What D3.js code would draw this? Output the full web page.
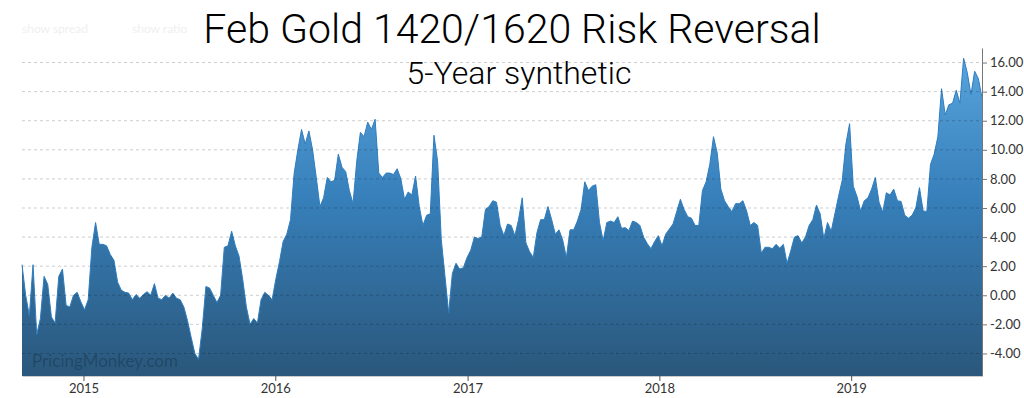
<!DOCTYPE html>
<html>
<head>
<meta charset="utf-8">
<script src="https://cdn.jsdelivr.net/npm/d3@7"></script>
<style>
  body { margin: 0; background: #fff; }
  svg { display: block; }
</style>
</head>
<body>
<svg></svg>
<script>
// Chart size
const width = 1024;
const height = 398;

// Weekly samples, first one on 6 Sep 2014
const startDate = new Date(2014, 8, 6);
const endDate = new Date(2019, 8, 7);
const stepDays = 7;

// Risk reversal values (one per week)
const rrValues = [
  2.1, 0.0, -1.4, 2.1, -2.7, -1.6, 1.3, 0.75, -1.5, -1.9,
  1.3, 1.8, -0.7, -0.8, 0.0, 0.2, -0.45, -1.0, -0.3, 3.3,
  5.0, 3.5, 3.5, 3.4, 2.8, 2.4, 0.9, 0.35, 0.2, 0.15,
  -0.3, 0.05, -0.2, 0.05, 0.25, 0.0, 0.8, -0.2, -0.3, 0.0,
  -0.2, 0.15, -0.2, -0.3, -0.8, -1.75, -2.9, -4.0, -4.4, -2.3,
  0.6, 0.5, 0.0, -0.5, 0.0, 3.3, 3.4, 4.4, 3.4, 2.7,
  1.1, -0.8, -2.0, -1.6, -1.9, -0.3,
  0.2, 0.0, -0.3, 1.1, 2.3, 3.7, 4.2, 5.2, 8.4, 10.0,
  11.4, 10.4, 11.3, 10.0, 8.1, 6.1, 6.7, 8.1, 7.8, 7.9,
  9.7, 8.8, 8.5, 7.2, 6.3, 9.2, 11.2, 10.9, 11.9, 11.4,
  12.1, 8.4, 8.1, 8.4, 8.4, 8.3, 8.7, 8.0, 6.6, 7.1,
  6.9, 8.2, 6.1, 4.8, 5.5, 5.6, 11.0, 9.2, 3.8, 1.3,
  -1.2, 1.5, 2.2, 1.8, 1.9, 2.6, 3.1, 4.0, 3.9, 4.0,
  5.9, 6.1, 6.5, 6.4, 4.8,
  4.1, 4.9, 4.8, 4.1, 5.2, 6.7, 3.6, 3.0, 2.6, 4.3,
  5.2, 5.2, 6.1, 5.2, 4.2, 4.5, 3.8, 2.6, 4.5, 4.5,
  5.1, 5.9, 7.8, 7.2, 7.5, 7.6, 5.0, 3.75, 5.0, 5.1,
  5.0, 5.4, 4.6, 4.65, 4.45, 5.1, 5.0, 4.8, 4.0, 3.55,
  3.2, 3.7, 4.1, 3.4, 4.2, 4.55, 4.9, 5.75, 6.6, 5.9,
  5.4, 5.3, 4.8, 4.8, 7.2, 7.8, 9.0, 10.9, 9.8, 7.3,
  6.5, 6.1, 5.75, 6.3, 6.3, 6.5,
  5.8, 4.8, 5.0, 4.8, 2.9, 3.3, 3.3, 3.2, 3.5, 3.25,
  3.5, 2.2, 3.05, 4.0, 4.1, 3.6, 4.0, 4.8, 5.2, 6.2,
  5.6, 3.9, 5.0, 4.4, 5.6, 6.8, 7.9, 10.4, 11.8, 7.5,
  6.8, 5.8, 6.5, 6.7, 7.3, 8.1, 6.4, 5.7, 7.05, 6.9,
  7.3, 6.5, 6.45, 5.5, 5.3, 5.5, 6.0, 7.4, 5.8, 5.75,
  9.0, 9.7, 10.9, 14.2, 12.4, 13.1, 13.2, 14.1, 13.2, 16.3,
  15.3, 13.8, 15.4, 14.9, 13.6
];

// Axis ticks
const yTicks = [-4, -2, 0, 2, 4, 6, 8, 10, 12, 14, 16];
const yDomain = [-5.55, 17.0];

const data = rrValues.map((v, i) => ({
  date: d3.timeDay.offset(startDate, i * stepDays),
  value: v
}));

// Plot box
const plot = { left: 22, right: 982, top: 48, bottom: 376 };

const svg = d3.select("svg")
    .attr("width", width)
    .attr("height", height);

const x = d3.scaleTime()
    .domain([startDate, endDate])
    .range([plot.left, plot.right]);

const y = d3.scaleLinear()
    .domain(yDomain)
    .range([plot.bottom, plot.top]);

// Faint leftover controls at the top
svg.append("text")
    .attr("x", 22).attr("y", 33)
    .style("font-family", "Lato")
    .style("font-size", "12px")
    .style("fill", "#efefef")
    .text("show spread");
svg.append("text")
    .attr("x", 132).attr("y", 33)
    .style("font-family", "Lato")
    .style("font-size", "12px")
    .style("fill", "#efefef")
    .text("show ratio");

// Gradient for the area
const defs = svg.append("defs");
const grad = defs.append("linearGradient")
    .attr("id", "areaFill")
    .attr("gradientUnits", "userSpaceOnUse")
    .attr("x1", 0).attr("x2", 0)
    .attr("y1", plot.top).attr("y2", plot.bottom);
grad.append("stop").attr("offset", "0%").attr("stop-color", "#5ba6df");
grad.append("stop").attr("offset", "45%").attr("stop-color", "#3780bb");
grad.append("stop").attr("offset", "100%").attr("stop-color", "#2a577b");

// Area + line
const area = d3.area()
    .x(d => x(d.date))
    .y0(plot.bottom)
    .y1(d => y(d.value));

const line = d3.line()
    .x(d => x(d.date))
    .y(d => y(d.value));

svg.append("path")
    .datum(data)
    .attr("d", area)
    .attr("fill", "url(#areaFill)");

svg.append("path")
    .datum(data)
    .attr("d", line)
    .attr("fill", "none")
    .attr("stroke", "#2e7dbf")
    .attr("stroke-width", 1);

// Dashed grid on top
svg.append("g")
    .selectAll("line")
    .data(yTicks)
    .enter()
    .append("line")
    .attr("x1", plot.left)
    .attr("x2", plot.right)
    .attr("y1", d => y(d))
    .attr("y2", d => y(d))
    .style("stroke", "#000")
    .style("stroke-opacity", 0.2)
    .style("stroke-dasharray", "3,3");

// Watermark
svg.append("text")
    .attr("x", 32)
    .attr("y", 367)
    .style("font-family", "Lato")
    .style("font-size", "17px")
    .style("fill", "#000")
    .style("fill-opacity", 0.22)
    .text("PricingMonkey.com");

// Right axis
const yAxis = svg.append("g")
    .attr("transform", `translate(${plot.right},0)`)
    .call(d3.axisRight(y)
        .tickValues(yTicks)
        .tickSize(5)
        .tickSizeOuter(0)
        .tickFormat(d => d.toFixed(2)));
yAxis.select(".domain").attr("stroke", "#777");
yAxis.selectAll(".tick line").attr("stroke", "#777");
yAxis.selectAll("text")
    .style("font-family", "Lato")
    .style("font-size", "13px")
    .style("fill", "#333");

// Bottom axis
const xAxis = svg.append("g")
    .attr("transform", `translate(0,${plot.bottom})`)
    .call(d3.axisBottom(x)
        .ticks(d3.timeYear)
        .tickSize(5)
        .tickSizeOuter(0)
        .tickFormat(d3.timeFormat("%Y")));
xAxis.select(".domain").attr("stroke", "#ccc");
xAxis.selectAll(".tick line").attr("stroke", "#555");
xAxis.selectAll("text")
    .style("font-family", "Lato")
    .style("font-size", "13px")
    .style("fill", "#333");

// Titles
svg.append("text")
    .attr("x", 512)
    .attr("y", 43)
    .attr("text-anchor", "middle")
    .style("font-family", "Roboto")
    .style("font-weight", 300)
    .style("font-size", "41px")
    .style("fill", "#000")
    .text("Feb Gold 1420/1620 Risk Reversal");

svg.append("text")
    .attr("x", 519)
    .attr("y", 84)
    .attr("text-anchor", "middle")
    .style("font-family", "Roboto")
    .style("font-weight", 300)
    .style("font-size", "32px")
    .style("fill", "#000")
    .text("5-Year synthetic");
</script>
</body>
</html>
